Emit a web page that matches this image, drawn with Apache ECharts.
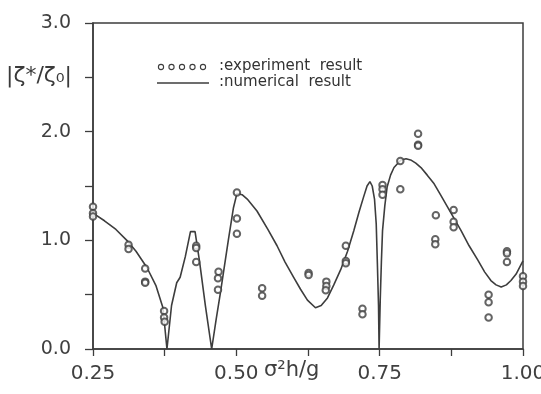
<!DOCTYPE html>
<html>
<head>
<meta charset="utf-8">
<script src="https://cdn.jsdelivr.net/npm/echarts@6/dist/echarts.min.js"></script>
<style>
  html, body { margin: 0; padding: 0; background: #fff; }
  #chart { width: 541px; height: 394px; }
</style>
</head>
<body>
<div id="chart"></div>
<script>
// Numerical response curve |ζ*/ζ0| against σ²h/g
const curveX = [0.25, 0.27, 0.29, 0.309, 0.325, 0.344, 0.36, 0.372, 0.379, 0.387, 0.396, 0.402, 0.411, 0.420, 0.428, 0.436, 0.446, 0.457, 0.465, 0.472, 0.486, 0.495, 0.501, 0.510, 0.519, 0.536, 0.555, 0.571, 0.585, 0.600, 0.612, 0.624, 0.638, 0.648, 0.659, 0.670, 0.682, 0.694, 0.705, 0.714, 0.722, 0.728, 0.733, 0.737, 0.741, 0.744, 0.746, 0.748, 0.749, 0.751, 0.753, 0.755, 0.759, 0.763, 0.769, 0.775, 0.787, 0.796, 0.804, 0.813, 0.822, 0.833, 0.845, 0.856, 0.868, 0.880, 0.892, 0.906, 0.921, 0.933, 0.944, 0.953, 0.962, 0.971, 0.979, 0.988, 0.997, 1.000];
const curveY = [1.25, 1.18, 1.10, 1.00, 0.90, 0.75, 0.58, 0.38, 0.0, 0.40, 0.61, 0.66, 0.85, 1.08, 1.08, 0.80, 0.40, 0.0, 0.28, 0.51, 1.00, 1.30, 1.43, 1.42, 1.38, 1.27, 1.10, 0.95, 0.80, 0.66, 0.55, 0.45, 0.38, 0.40, 0.47, 0.59, 0.73, 0.90, 1.09, 1.26, 1.40, 1.50, 1.54, 1.50, 1.38, 1.15, 0.79, 0.40, 0.0, 0.45, 0.80, 1.09, 1.32, 1.49, 1.60, 1.67, 1.74, 1.75, 1.74, 1.71, 1.67, 1.60, 1.52, 1.42, 1.31, 1.20, 1.09, 0.95, 0.82, 0.71, 0.63, 0.59, 0.57, 0.59, 0.63, 0.69, 0.78, 0.81];

// Measured values
const expX = [0.25, 0.25, 0.25, 0.312, 0.312, 0.341, 0.341, 0.341, 0.374, 0.374, 0.375, 0.430, 0.430, 0.430, 0.469, 0.468, 0.468, 0.501, 0.501, 0.501, 0.545, 0.545, 0.626, 0.626, 0.657, 0.657, 0.656, 0.691, 0.691, 0.691, 0.720, 0.720, 0.755, 0.755, 0.755, 0.786, 0.786, 0.817, 0.817, 0.817, 0.848, 0.847, 0.847, 0.879, 0.879, 0.879, 0.940, 0.940, 0.940, 0.972, 0.972, 0.972, 1.0, 1.0, 1.0];
const expY = [1.31, 1.25, 1.22, 0.96, 0.92, 0.74, 0.62, 0.61, 0.35, 0.29, 0.25, 0.95, 0.93, 0.80, 0.71, 0.65, 0.545, 1.44, 1.20, 1.06, 0.56, 0.49, 0.70, 0.68, 0.62, 0.58, 0.54, 0.95, 0.81, 0.79, 0.37, 0.32, 1.51, 1.47, 1.42, 1.73, 1.47, 1.98, 1.88, 1.87, 1.23, 1.01, 0.965, 1.28, 1.17, 1.12, 0.50, 0.43, 0.29, 0.90, 0.88, 0.80, 0.67, 0.62, 0.58];

// Axis labelling
const xLabelStep = 0.25;
const yLabelStep = 1.0;
const xAxisTitle = 'σ²h/g';
const yAxisTitle = '|ζ*/ζ₀|';
const legendExperiment = ':experiment  result';
const legendNumerical = ':numerical  result';

const ink = '#3d3d3d';
const font = 'DejaVu Sans';

const curveData = curveX.map((x, i) => [x, curveY[i]]);
const expData = expX.map((x, i) => [x, expY[i]]);

function onStep(v, step) {
  const r = v / step;
  return Math.abs(r - Math.round(r)) < 1e-6;
}

const chart = echarts.init(document.getElementById('chart'));

const legendCircles = [0, 1, 2, 3, 4].map(i => ({
  type: 'circle',
  shape: { cx: 161 + i * 10.5, cy: 67, r: 2.6 },
  style: { fill: 'none', stroke: ink, lineWidth: 1.1 }
}));

chart.setOption({
  backgroundColor: '#fff',
  animation: false,
  grid: {
    left: 93, right: 18, top: 23, bottom: 45,
    outerBoundsMode: 'none',
    containLabel: false,
    show: true, borderColor: ink, borderWidth: 1.5, backgroundColor: 'transparent'
  },
  xAxis: {
    type: 'value', min: 0.25, max: 1.0, interval: 0.125,
    axisLine: { lineStyle: { color: ink, width: 1.5 } },
    axisTick: { show: true, length: 7, lineStyle: { color: ink, width: 1.3 } },
    splitLine: { show: false },
    axisLabel: {
      margin: 15, fontFamily: font, fontSize: 20, color: '#404040',
      formatter: v => onStep(v, xLabelStep) ? v.toFixed(2) : ''
    }
  },
  yAxis: {
    type: 'value', min: 0, max: 3, interval: 0.5,
    axisLine: { lineStyle: { color: ink, width: 1.5 } },
    axisTick: { show: true, length: 8, lineStyle: { color: ink, width: 1.3 } },
    splitLine: { show: false },
    axisLabel: {
      margin: 22, fontFamily: font, fontSize: 19, color: '#404040',
      formatter: v => onStep(v, yLabelStep) ? v.toFixed(1) : ''
    }
  },
  graphic: [
    {
      type: 'text', left: 6, top: 65,
      style: { text: yAxisTitle, font: '22px "' + font + '"', fill: '#3a3a3a' }
    },
    {
      type: 'text', left: 264, top: 360,
      style: { text: xAxisTitle, font: '21px "' + font + '"', fill: '#404040' }
    },
    ...legendCircles,
    {
      type: 'line', shape: { x1: 157, y1: 83, x2: 209, y2: 83 },
      style: { stroke: ink, lineWidth: 1.6 }
    },
    {
      type: 'text', left: 219, top: 59,
      style: { text: legendExperiment, font: '15px "' + font + '"', fill: '#333' }
    },
    {
      type: 'text', left: 219, top: 75,
      style: { text: legendNumerical, font: '15px "' + font + '"', fill: '#333' }
    }
  ],
  series: [
    {
      name: 'numerical result',
      type: 'line',
      data: curveData,
      showSymbol: false,
      smooth: false,
      lineStyle: { color: ink, width: 1.6 },
      z: 2
    },
    {
      name: 'experiment result',
      type: 'scatter',
      data: expData,
      symbol: 'emptyCircle',
      symbolSize: 6.5,
      itemStyle: { color: ink, borderColor: ink, borderWidth: 1.3 },
      z: 3
    }
  ]
});
</script>
</body>
</html>
